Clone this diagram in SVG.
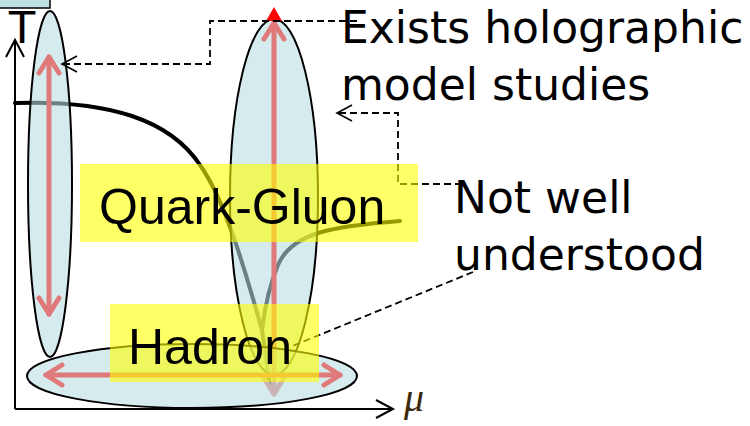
<svg xmlns="http://www.w3.org/2000/svg" width="750" height="426" viewBox="0 0 750 426">
<style>
.axis{fill:none;stroke:#000;stroke-width:2}
.phase{fill:none;stroke:#000;stroke-width:4;stroke-linecap:round;stroke-linejoin:round}
.region{fill:#b8dde0;fill-opacity:0.58;stroke:#000;stroke-width:2}
.range{fill:none;stroke:#e07a7a;stroke-width:5;stroke-linecap:round}
.dash{fill:none;stroke:#000;stroke-width:1.8;stroke-dasharray:7 4}
.hl{fill:#ffff00;fill-opacity:0.6}
.big{font-family:"Liberation Sans",Arial,sans-serif;font-size:50px;fill:#000}
.note{font-family:"DejaVu Sans",sans-serif;font-size:44px;fill:#000}
</style>
<defs>
<marker id="redHead" viewBox="-24 -16 30 32" markerWidth="30" markerHeight="32" refX="0" refY="0" orient="auto-start-reverse" markerUnits="userSpaceOnUse" overflow="visible">
<path d="M-16,-10 L0,0 L-16,10" fill="none" stroke="#e07a7a" stroke-width="5" stroke-linecap="round" stroke-linejoin="round" stroke-dasharray="none"/>
</marker>
<marker id="openHead" viewBox="-20 -12 24 24" markerWidth="24" markerHeight="24" refX="0" refY="0" orient="auto" markerUnits="userSpaceOnUse" overflow="visible">
<path d="M-15,-8 L0,0 L-15,8" fill="none" stroke="#000" stroke-width="1.6" stroke-dasharray="none"/>
</marker>
<marker id="axisHead" viewBox="-20 -12 24 24" markerWidth="24" markerHeight="24" refX="0" refY="0" orient="auto" markerUnits="userSpaceOnUse" overflow="visible">
<path d="M-17,-9 L0,0 L-17,9" fill="none" stroke="#000" stroke-width="2" stroke-dasharray="none"/>
</marker>
</defs>

<g id="axes">
<path class="axis" d="M15,409 V40" marker-end="url(#axisHead)"/>
<path class="axis" d="M15,409 H393" marker-end="url(#axisHead)"/>
<text x="404" y="411" font-family="'Liberation Serif',serif" font-style="italic" font-size="40" fill="#3b2a0a">μ</text>
</g>

<g id="T-label">
<rect x="-2" y="-20" width="52" height="28" fill="#bde0e3" stroke="#000" stroke-width="1.5"/>
<text x="22" y="43" text-anchor="middle" font-family="'Liberation Sans',Arial,sans-serif" font-size="47" fill="#000">T</text>
</g>

<g id="phase-boundary">
<path class="phase" d="M15,103 C110,100 170,120 200,165 C225,200 245,270 262,330 L270,388"/>
<path class="phase" d="M400,221 C335,226 292,232 278,265 C270,284 265,305 262,330"/>
</g>

<g id="node-low-mu-region">
<ellipse class="region" cx="50" cy="184" rx="22" ry="173"/>
<line class="range" x1="49" y1="57" x2="49" y2="314" marker-start="url(#redHead)" marker-end="url(#redHead)"/>
</g>

<g id="node-finite-mu-region">
<ellipse class="region" cx="274" cy="197" rx="44" ry="178"/>
<line class="range" x1="274" y1="23" x2="274" y2="394" marker-start="url(#redHead)" marker-end="url(#redHead)"/>
<polygon points="274,7 266,21 282,21" fill="#ff0000"/>
</g>

<g id="node-low-T-region">
<ellipse class="region" cx="192" cy="376" rx="165" ry="32"/>
<line class="range" x1="46" y1="375" x2="340" y2="375" marker-start="url(#redHead)" marker-end="url(#redHead)"/>
</g>

<g id="connectors">
<path class="dash" d="M357,21 H210 V64 H62" marker-end="url(#openHead)"/>
<path class="dash" d="M462,184 H398 V113 H337" marker-end="url(#openHead)"/>
<path class="dash" d="M473,272 L290,347"/>
</g>

<g id="node-quark-gluon">
<rect class="hl" x="80" y="164" width="338" height="78"/>
<text class="big" x="99" y="224">Quark-Gluon</text>
</g>

<g id="node-hadron">
<rect class="hl" x="110" y="304" width="209" height="78"/>
<text class="big" x="128" y="364" font-size="48">Hadron</text>
</g>

<g id="node-exists">
<text class="note" x="341" y="43">Exists holographic</text>
<text class="note" x="341" y="100">model studies</text>
</g>

<g id="node-not-well">
<text class="note" x="454" y="213">Not well</text>
<text class="note" x="454" y="270">understood</text>
</g>
</svg>
